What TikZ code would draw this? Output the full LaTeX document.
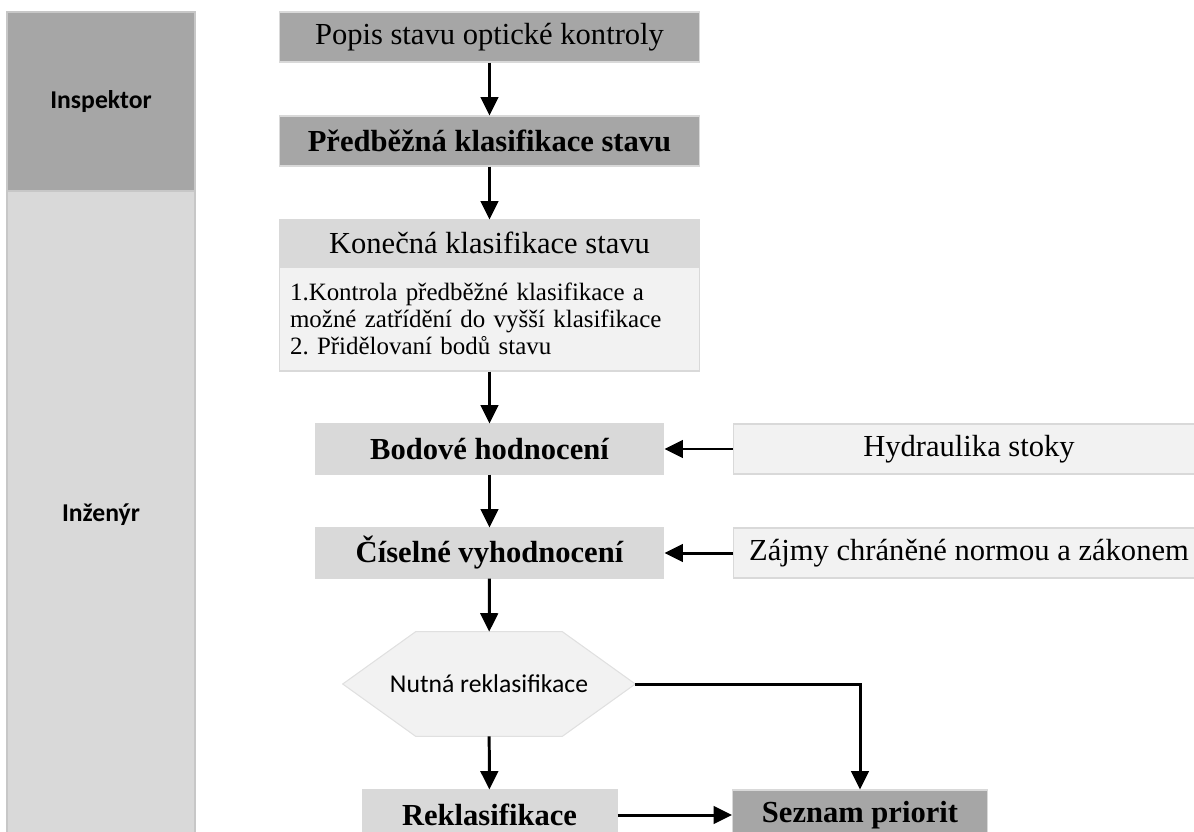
\documentclass[tikz,border=0pt]{standalone}
\usepackage{fontspec}
\setmainfont{Liberation Serif}
\newfontfamily\lanefont{Carlito}
\usetikzlibrary{arrows.meta,backgrounds}
\definecolor{darkbox}{HTML}{A6A6A6}
\definecolor{midbox}{HTML}{D9D9D9}
\definecolor{lightbox}{HTML}{F2F2F2}
\frenchspacing
\tikzset{
    lane/.style = {draw=black!22, line width=0.6pt, rectangle, inner sep=0pt,
        minimum width=3.76cm,
        font=\lanefont\fontsize{14.6}{17}\selectfont\bfseries},
    block/.style = {draw=black!15, line width=0.6pt, rectangle, inner sep=0pt,
        minimum height=1cm,
        font=\fontsize{17.4}{20}\selectfont},
    heavy/.style = {font=\fontsize{17.4}{20}\selectfont\bfseries},
    wide/.style = {block, minimum width=8.42cm},
    narrow/.style = {block, minimum width=6.98cm},
    ext/.style = {block, fill=lightbox, minimum width=9.44cm},
    last/.style = {block, heavy, minimum width=5.1cm},
    decision/.style = {rectangle, inner sep=0pt,
        minimum width=5.84cm, minimum height=2.08cm,
        font=\lanefont\fontsize{14.6}{16}\selectfont},
    hexline/.style = {draw=black!12, line width=0.6pt, fill=lightbox},
    arrow/.style = {draw, line width=1.7pt, -{Triangle[width=10pt,length=10.5pt]}}
}

\begin{document}
\begin{tikzpicture}[x=0.02cm, y=-0.02cm]
    \clip (0,0) rectangle (1194,832);
    % lanes
    \node[lane, fill=darkbox, minimum height=3.58cm] (insp) at (101,101.5) {Inspektor};
    \node[lane, fill=midbox, minimum height=12.96cm] (inz) at (101,515) {Inženýr};
    % main column
    \node[wide, fill=darkbox] (popis) at (489.5,37) {Popis stavu optické kontroly};
    \node[wide, heavy, fill=darkbox] (pred) at (489.5,141) {Předběžná klasifikace stavu};
    \node[wide, fill=midbox, minimum height=0.92cm] (kon) at (489.5,243) {Konečná klasifikace stavu};
    \node[wide, fill=lightbox, minimum height=2.08cm, text width=7.98cm, inner xsep=0.22cm,
        align=left, font=\fontsize{14.2}{15.2}\selectfont] (konb) at (489.5,319)
        {1.Kontrola předběžné klasifikace a\\možné zatřídění do vyšší klasifikace\\2. Přidělovaní bodů stavu};
    \node[narrow, heavy, fill=midbox] (bod) at (489.5,449) {Bodové hodnocení};
    \node[narrow, heavy, fill=midbox] (cis) at (489.5,553) {Číselné vyhodnocení};
    \node[ext] (hydr) at (969,449) {Hydraulika stoky};
    \node[ext] (zajmy) at (969,553) {Zájmy chráněné normou a zákonem};
    \node[decision] (chk) at (489,684) {Nutná reklasifikace};
    \node[last, fill=midbox] (rekl) at (489.5,815) {Reklasifikace};
    \node[last, fill=darkbox] (sez) at (860,815) {Seznam priorit};
    \begin{scope}[on background layer]
        \path[hexline] (chk.west) -- ([xshift=1.46cm]chk.north west) -- ([xshift=-1.46cm]chk.north east)
            -- (chk.east) -- ([xshift=-1.46cm]chk.south east) -- ([xshift=1.46cm]chk.south west) -- cycle;
    \end{scope}
    % connectors
    \draw[arrow] (popis) -- (pred);
    \draw[arrow] (pred) -- (kon);
    \draw[arrow] (konb) -- (bod);
    \draw[arrow] (hydr) -- (bod);
    \draw[arrow] (bod) -- (cis);
    \draw[arrow] (zajmy) -- (cis);
    \draw[arrow] (cis) -- (chk);
    \draw[arrow] (chk) -- (rekl);
    \draw[arrow] (chk.east) -| (sez.north);
    \draw[arrow] (rekl) -- (sez);
\end{tikzpicture}
\end{document}
